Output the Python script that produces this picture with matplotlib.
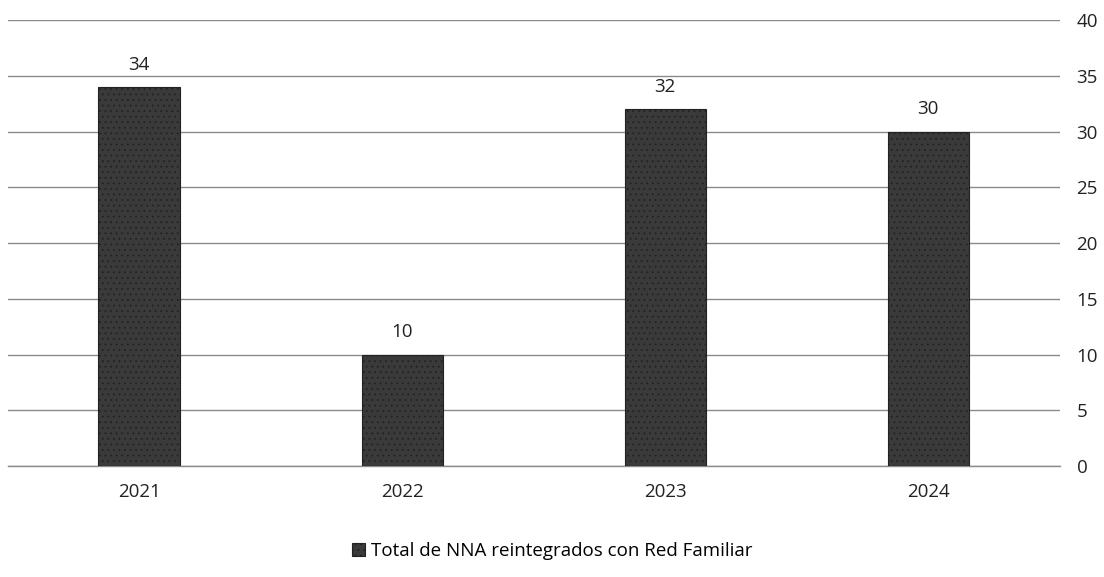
import matplotlib.pyplot as plt
import numpy as n

plt.rcParams['font.family'] = ['Open Sans', 'DejaVu Sans']
plt.rcParams['hatch.color'] = '#8c8c8c'
plt.rcParams['hatch.linewidth'] = 0.6

# data
years = ['2021', '2022', '2023', '2024']
totales = [34, 10, 32, 30]
serie = 'Total de NNA reintegrados con Red Familiar'
yticks = [0, 5, 10, 15, 20, 25, 30, 35, 40]

fig = plt.figure(figsize=(11.04, 5.77), dpi=100, facecolor='white')
ax = fig.add_axes([0.007, 0.192, 0.953, 0.773])

x = n.arange(len(years))
bars = ax.bar(x, totales, width=0.31, color='#3a3a3a', edgecolor='#222222',
              hatch='...', linewidth=0.8, zorder=3, label=serie)

for xi, v in zip(x, totales):
    ax.text(xi, v + 1.2, str(v), ha='center', va='bottom', fontsize=13.5, color='#222222')

ax.set_xlim(-0.5, len(years) - 0.5)
ax.set_ylim(0, 40)
ax.set_yticks(yticks)
ax.yaxis.tick_right()
ax.set_xticks(x)
ax.set_xticklabels(years)
ax.tick_params(axis='both', length=0, labelsize=13.5, colors='#222222')
ax.tick_params(axis='x', pad=12)
ax.tick_params(axis='y', pad=12)
ax.grid(axis='y', color='#8a8a8a', linewidth=1.0, zorder=0)
# base line at 0 (not clipped at the axes edge)
ax.axhline(0, color='#8a8a8a', linewidth=1.0, zorder=2, clip_on=False)
for s in ax.spines.values():
    s.set_visible(False)

fig.legend(loc='lower center', bbox_to_anchor=(0.5, 0.0), frameon=False,
           fontsize=13.5, handlelength=0.7, handleheight=0.7, handletextpad=0.3)

plt.savefig('out.png', dpi=100, facecolor='white')
